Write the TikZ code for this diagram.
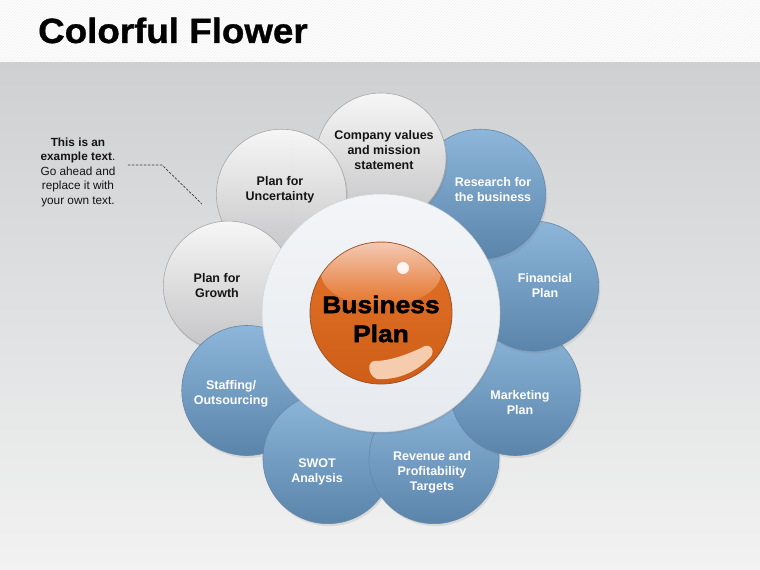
\documentclass[tikz,border=0pt]{standalone}
\usepackage{fontspec}
\setmainfont{Liberation Sans}
\newfontfamily\titlefont[FakeStretch=1.05,FakeBold=1]{Liberation Sans Bold}
\newfontfamily\ballfont[FakeStretch=1.1,FakeBold=2]{Liberation Sans Bold}
\usepackage{tikz}
\usetikzlibrary{shadows, patterns, calc}

\definecolor{PetalBlueTop}{RGB}{141,182,218}
\definecolor{PetalBlueBottom}{RGB}{90,132,170}
\definecolor{PetalBlueEdge}{RGB}{100,136,170}
\definecolor{PetalGrayTop}{RGB}{246,246,246}
\definecolor{PetalGrayBottom}{RGB}{196,196,198}
\definecolor{PetalGrayEdge}{RGB}{168,168,170}
\definecolor{BackTop}{RGB}{206,208,210}
\definecolor{BackBottom}{RGB}{242,242,242}
\definecolor{RingTop}{RGB}{243,245,248}
\definecolor{RingBottom}{RGB}{230,234,238}
\definecolor{BallTop}{RGB}{244,204,184}
\definecolor{BallMid}{RGB}{228,114,40}
\definecolor{BallBottom}{RGB}{206,94,24}
\definecolor{BallEdge}{RGB}{150,84,44}
\definecolor{Crescent}{RGB}{246,204,174}
\definecolor{NoteLine}{RGB}{60,60,60}
\definecolor{DarkText}{RGB}{20,20,20}

\tikzset{
  petal/.style={circle, minimum size=130pt, inner sep=0pt, draw, line width=0.6pt,
    drop shadow={opacity=0.18, shadow xshift=1.5pt, shadow yshift=-2.5pt}},
  bluepetal/.style={petal, top color=PetalBlueTop, bottom color=PetalBlueBottom, draw=PetalBlueEdge},
  graypetal/.style={petal, top color=PetalGrayTop, bottom color=PetalGrayBottom, draw=PetalGrayEdge},
  petaltext/.style={align=center, inner sep=0pt, font=\fontsize{12.5}{15}\selectfont\bfseries},
  notetext/.style={align=center, inner sep=0pt, text=DarkText, font=\fontsize{11.8}{14.5}\selectfont},
  noteline/.style={draw=NoteLine, line width=0.7pt, dash pattern=on 2.5pt off 1.5pt}
}

\begin{document}
\begin{tikzpicture}[x=1pt, y=1pt]
  \useasboundingbox (-381,-257) rectangle (379,313);
  \shade[top color=BackTop, bottom color=BackBottom] (-381,-257) rectangle (379,251);
  \fill[white] (-381,251) rectangle (379,313);
  \fill[pattern=north east lines, pattern color=black!6] (-381,251) rectangle (379,313);
  \node[anchor=base west, inner sep=0pt, font=\titlefont\fontsize{35}{40}\selectfont] (title) at (-343,270) {Colorful Flower};

  \foreach \ang/\kind [count=\i] in {130/graypetal, 170/graypetal, 210/bluepetal, 250/bluepetal,
      290/bluepetal, 330/bluepetal, 10/bluepetal, 50/bluepetal, 90/graypetal}
    \node[style=\kind] (petal\i) at (\ang:155) {};
  \begin{scope}
    \clip (-88,0) rectangle (0,313);
    \node[graypetal] (petalover) at (130:155) {};
  \end{scope}

  \node[circle, minimum size=238pt, inner sep=0pt, top color=RingTop, bottom color=RingBottom,
    draw=RingBottom!90!black, line width=0.5pt,
    drop shadow={opacity=0.18, shadow xshift=1pt, shadow yshift=-2pt}] (ball ring) at (0,0) {};
  \node[circle, minimum size=142pt, inner sep=0pt, top color=BallMid, bottom color=BallBottom,
    draw=BallEdge, line width=0.8pt] (ball) at (0,0) {};
  \begin{scope}
    \clip (ball.center) circle (70.5);
    \shade[top color=BallTop, bottom color=BallMid] (0,40) ellipse (60 and 33);
  \end{scope}
  \fill[Crescent] (-4,-66) arc[start angle=-93.5, end angle=-40, radius=66]
    .. controls (54,-37) and (49,-31) .. (44,-33)
    .. controls (30,-40) and (10,-48) .. (-6,-48)
    .. controls (-14,-48) and (-14,-62) .. cycle;
  \fill[white, opacity=0.9] (22,45) circle (6);
  \node[align=center, inner sep=0pt, text=black, font=\ballfont\fontsize{24}{29}\selectfont] (bizplan) at (0,-6) {Business\\Plan};

  \foreach \x/\y/\txt/\col [count=\i] in {
      3/163/{Company values\\and mission\\statement}/DarkText,
      112/123/{Research for\\the business}/white,
      164/27/{Financial\\Plan}/white,
      139/-90/{Marketing\\Plan}/white,
      51/-159/{Revenue and\\Profitability\\Targets}/white,
      -64/-159/{SWOT\\Analysis}/white,
      -150/-81/{Staffing/\\Outsourcing}/white,
      -164/27/{Plan for\\Growth}/DarkText,
      -101/123/{Plan for\\Uncertainty}/DarkText}
    \node[petaltext, text=\col] (label\i) at (\x,\y) {\txt};

  \node[notetext] (note) at (-303,141) {{\bfseries This is an}\\{\bfseries example text}.\\Go ahead and\\replace it with\\your own text.};
  \coordinate (notestart) at (-253,148);
  \coordinate (notebend) at (-219,148);
  \coordinate (noteend) at (-179,109);
  \draw[noteline] (notestart) -- (notebend) -- (noteend);
\end{tikzpicture}
\end{document}
